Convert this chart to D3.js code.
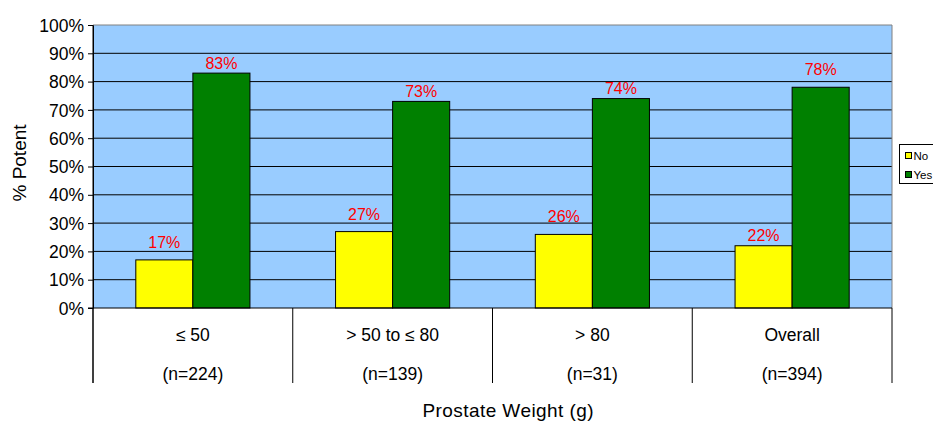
<!DOCTYPE html>
<html><head><meta charset="utf-8">
<script src="https://cdn.jsdelivr.net/npm/d3@7"></script>
<style>body{margin:0;background:#fff}svg{display:block;font-family:"Liberation Sans",Arial,sans-serif}</style>
</head><body><svg id="c" width="933" height="422"></svg>
<script>
const categories = ["≤ 50", "> 50 to ≤ 80", "> 80", "Overall"];
const nLabels = ["(n=224)", "(n=139)", "(n=31)", "(n=394)"];
const seriesNames = ["No", "Yes"];
const noValues = [17, 27, 26, 22];
const yesValues = [83, 73, 74, 78];
const yTicks = [0,10,20,30,40,50,60,70,80,90,100];
const colors = {No:"#FFFF00", Yes:"#008000"};

const svg = d3.select("#c");
const L=93, R=892, T=25, B=308;
const x = d3.scaleBand().domain(categories).range([L,R]).paddingInner(0).paddingOuter(0);
const xs = d3.scaleBand().domain(seriesNames).range([0,x.bandwidth()]).paddingInner(0).paddingOuter(0.75);
const y = d3.scaleLinear().domain([0,100]).range([B,T]);

svg.append("rect").attr("x",L).attr("y",T).attr("width",R-L).attr("height",B-T).attr("fill","#99CCFF");
const gridVals = yTicks.filter(d=>d>0&&d<100);
svg.append("g").selectAll("line").data(gridVals).join("line")
  .attr("x1",L).attr("x2",R).attr("y1",d=>y(d)).attr("y2",d=>y(d)).attr("stroke","#000").attr("stroke-width",1);
svg.append("path").attr("d",`M${L},${T}H${R}V${B}`).attr("fill","none").attr("stroke","#808080").attr("stroke-width",1);

const data = categories.map((c,i)=>({c, vals:[{k:"No",v:noValues[i]},{k:"Yes",v:yesValues[i]}]}));
const g = svg.append("g").selectAll("g").data(data).join("g").attr("transform",d=>`translate(${x(d.c)},0)`);
g.selectAll("rect").data(d=>d.vals).join("rect")
  .attr("x",d=>xs(d.k)).attr("width",xs.bandwidth()).attr("y",d=>y(d.v)).attr("height",d=>B-y(d.v))
  .attr("fill",d=>colors[d.k]).attr("stroke","#000").attr("stroke-width",1);
// label placement: above the bar, nudged down toward the bar if it would cross a gridline
function labelY(v){
  const top=y(v); let base=top-12;
  const crosses = gridVals.some(gv=>{const gy=y(gv); return gy>base-11 && gy<base+0.5;});
  if(crosses) base=top-4.5;
  return base;
}
g.selectAll("text").data(d=>d.vals).join("text")
  .attr("x",d=>xs(d.k)+xs.bandwidth()/2).attr("y",d=>labelY(d.v))
  .attr("text-anchor","middle").attr("fill","#FF0000").attr("font-size",16).text(d=>d.v+"%");

// y axis
const ya = svg.append("g").attr("transform",`translate(${L},0)`).call(d3.axisLeft(y).tickValues(yTicks).tickFormat(d=>d+"%").tickSize(5).tickSizeOuter(0));
ya.select(".domain").attr("stroke","#000");
ya.selectAll("line").attr("stroke","#000");
ya.selectAll("text").attr("font-size",17.5).attr("fill","#000").attr("font-family","Liberation Sans, Arial, sans-serif").attr("x",-9).attr("dy","0.35em");
svg.append("line").attr("x1",L).attr("x2",L).attr("y1",T).attr("y2",383).attr("stroke","#000");

// x axis
svg.append("line").attr("x1",L-5).attr("x2",R).attr("y1",B).attr("y2",B).attr("stroke","#000");
const divs = categories.map(c=>x(c)+x.bandwidth()).concat([L]);
svg.append("g").selectAll("line").data(divs).join("line")
  .attr("x1",d=>d).attr("x2",d=>d).attr("y1",B).attr("y2",383).attr("stroke","#000");
svg.append("g").selectAll("text").data(categories).join("text")
  .attr("x",d=>x(d)+x.bandwidth()/2).attr("y",341).attr("text-anchor","middle").attr("font-size",17.5).text(d=>d);
svg.append("g").selectAll("text").data(nLabels).join("text")
  .attr("x",(d,i)=>x(categories[i])+x.bandwidth()/2).attr("y",380).attr("text-anchor","middle").attr("font-size",17.5).text(d=>d);

svg.append("text").attr("x",508).attr("y",417).attr("text-anchor","middle").attr("font-size",19).attr("textLength",171).text("Prostate Weight (g)");
svg.append("text").attr("transform","translate(26,163) rotate(-90)").attr("text-anchor","middle").attr("font-size",19).text("% Potent");

// legend
const lg = svg.append("g").attr("transform","translate(899.5,144.5)");
lg.append("rect").attr("x",0).attr("y",0).attr("width",60).attr("height",39).attr("fill","#fff").attr("stroke","#000");
seriesNames.forEach((s,i)=>{
  lg.append("rect").attr("x",6).attr("y",8+i*19).attr("width",6).attr("height",6).attr("fill",colors[s]).attr("stroke","#000");
  lg.append("text").attr("x",14).attr("y",15+i*19).attr("font-size",11.5).text(s);
});
</script></body></html>
